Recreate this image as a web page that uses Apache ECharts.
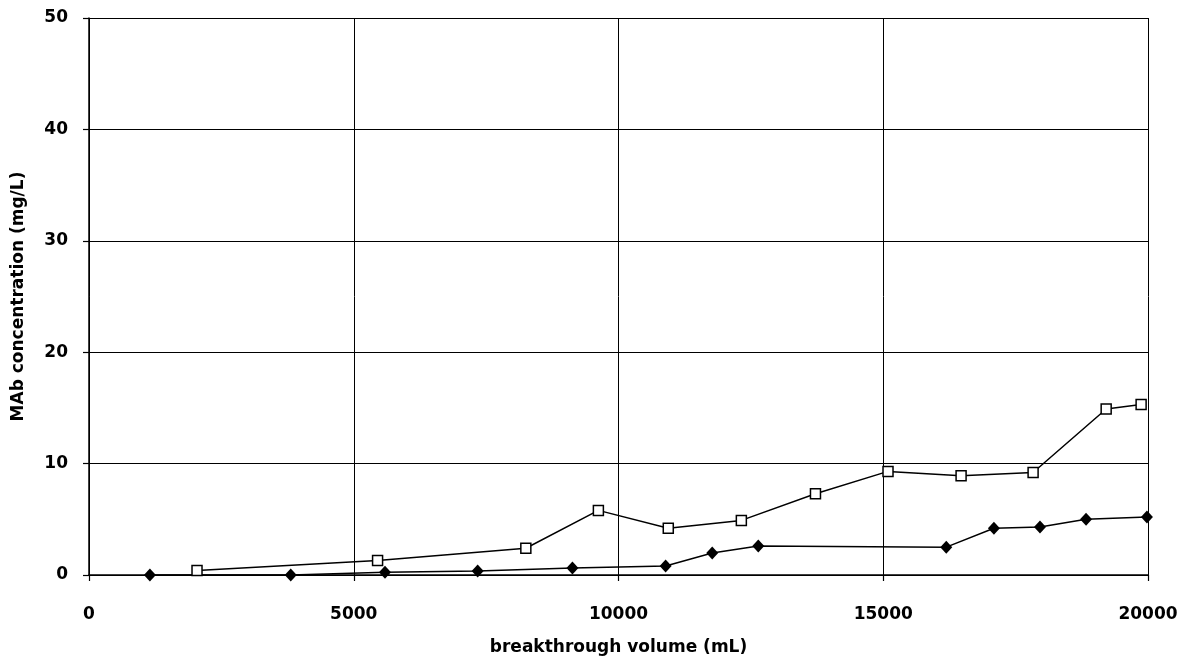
<!DOCTYPE html>
<html>
<head>
<meta charset="utf-8">
<script src="https://cdn.jsdelivr.net/npm/echarts@6/dist/echarts.min.js"></script>
<style>
  html, body { margin: 0; padding: 0; background: #fff; }
  #chart { width: 1188px; height: 665px; }
</style>
</head>
<body>
<div id="chart"></div>
<script>
// breakthrough volume (mL) and MAb concentration (mg/L), open-square run
const squareVolume = [2040, 5450, 8250, 9620, 10940, 12320, 13720, 15090, 16470, 17830, 19210, 19870];
const squareConc   = [0.4, 1.3, 2.4, 5.8, 4.2, 4.9, 7.3, 9.3, 8.9, 9.2, 14.9, 15.3];

// filled-diamond run
const diamondVolume = [1150, 3810, 5590, 7340, 9130, 10890, 11770, 12640, 16190, 17090, 17960, 18830, 19980];
const diamondConc   = [0.0, 0.0, 0.25, 0.35, 0.63, 0.8, 1.97, 2.6, 2.5, 4.2, 4.3, 5.0, 5.2];

const xTicks = { min: 0, max: 20000, interval: 5000 };
const yTicks = { min: 0, max: 50, interval: 10 };

const zip = (xs, ys) => xs.map((x, i) => [x, ys[i]]);

const boldFont = { fontFamily: 'DejaVu Sans', fontWeight: 'bold', color: '#000' };

const chart = echarts.init(document.getElementById('chart'), null, { renderer: 'canvas' });
chart.setOption({
  animation: false,
  backgroundColor: '#fff',
  grid: { left: 89, right: 40, top: 18, bottom: 90, containLabel: false, outerBoundsMode: 'none' },
  xAxis: {
    type: 'value',
    min: xTicks.min, max: xTicks.max, interval: xTicks.interval,
    name: 'breakthrough volume (mL)',
    nameLocation: 'middle',
    nameGap: 64,
    nameTextStyle: Object.assign({ fontSize: 17 }, boldFont),
    axisLine: { show: true, lineStyle: { color: '#000', width: 1.5 } },
    axisTick: { show: true, length: 6, lineStyle: { color: '#000', width: 1.2 } },
    axisLabel: Object.assign({ fontSize: 17, margin: 31, formatter: v => String(v) }, boldFont),
    splitLine: { show: true, lineStyle: { color: '#000', width: 1 } }
  },
  yAxis: {
    type: 'value',
    min: yTicks.min, max: yTicks.max, interval: yTicks.interval,
    name: 'MAb concentration (mg/L)',
    nameLocation: 'middle',
    nameGap: 62,
    nameRotate: 90,
    nameTextStyle: Object.assign({ fontSize: 17 }, boldFont),
    axisLine: { show: true, lineStyle: { color: '#000', width: 1.5 } },
    axisTick: { show: true, length: 6, lineStyle: { color: '#000', width: 1.2 } },
    axisLabel: Object.assign({ fontSize: 17, margin: 21 }, boldFont),
    splitLine: { show: true, lineStyle: { color: '#000', width: 1.2 } }
  },
  series: [
    {
      type: 'line',
      data: zip(squareVolume, squareConc),
      symbol: 'rect',
      symbolSize: 10,
      showAllSymbol: true,
      lineStyle: { color: '#000', width: 1.5 },
      itemStyle: { color: '#fff', borderColor: '#000', borderWidth: 1.5 },
      z: 3
    },
    {
      type: 'line',
      data: zip(diamondVolume, diamondConc),
      symbol: 'diamond',
      symbolSize: [12, 13],
      showAllSymbol: true,
      lineStyle: { color: '#000', width: 1.5 },
      itemStyle: { color: '#000', borderColor: '#000', borderWidth: 0 },
      z: 3
    }
  ]
});
</script>
</body>
</html>
